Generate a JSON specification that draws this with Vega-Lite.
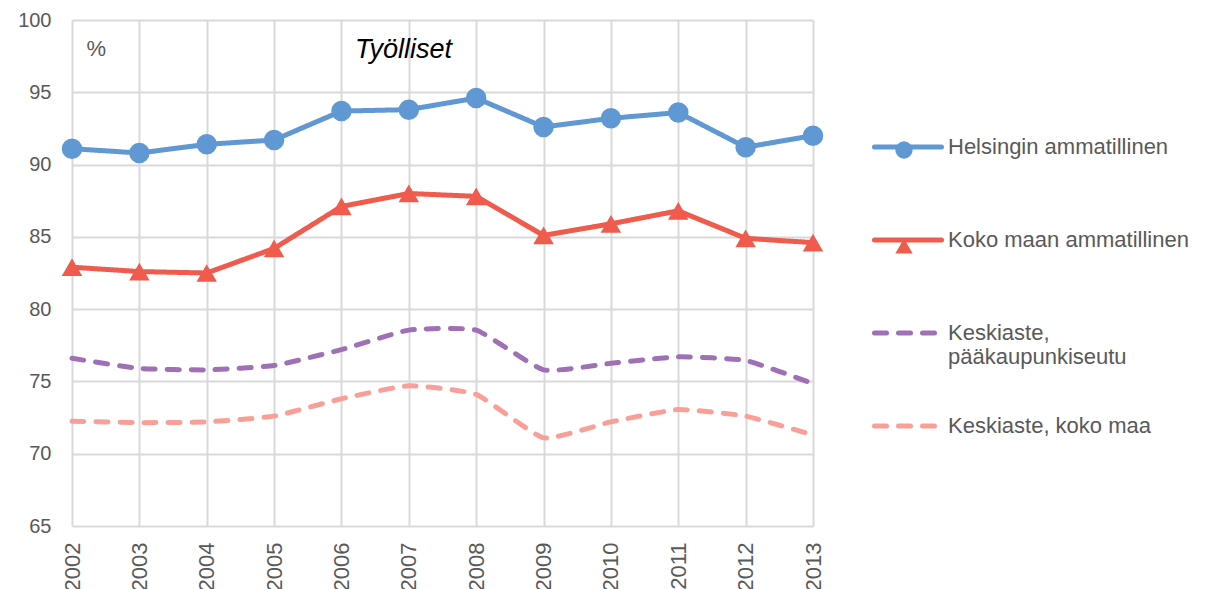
{
  "$schema": "https://vega.github.io/schema/vega-lite/v6.json",
  "width": 741,
  "height": 506,
  "autosize": {"type": "none"},
  "padding": {"left": 72, "top": 20, "right": 402, "bottom": 63},
  "background": "white",
  "config": {
    "view": {"stroke": null},
    "font": "Liberation Sans",
    "axis": {
      "grid": true, "gridColor": "#D9D9D9", "gridWidth": 2,
      "domain": false, "ticks": false,
      "labelFont": "Liberation Sans", "labelFontSize": 20, "labelColor": "#595959",
      "title": null
    }
  },
  "datasets": {
    "d": [
      {"year": 2002, "series": "Helsingin ammatillinen", "value": 91.1},
      {"year": 2003, "series": "Helsingin ammatillinen", "value": 90.8},
      {"year": 2004, "series": "Helsingin ammatillinen", "value": 91.4},
      {"year": 2005, "series": "Helsingin ammatillinen", "value": 91.7},
      {"year": 2006, "series": "Helsingin ammatillinen", "value": 93.7},
      {"year": 2007, "series": "Helsingin ammatillinen", "value": 93.8},
      {"year": 2008, "series": "Helsingin ammatillinen", "value": 94.6},
      {"year": 2009, "series": "Helsingin ammatillinen", "value": 92.6},
      {"year": 2010, "series": "Helsingin ammatillinen", "value": 93.2},
      {"year": 2011, "series": "Helsingin ammatillinen", "value": 93.6},
      {"year": 2012, "series": "Helsingin ammatillinen", "value": 91.2},
      {"year": 2013, "series": "Helsingin ammatillinen", "value": 92.0},
      {"year": 2002, "series": "Koko maan ammatillinen", "value": 82.9},
      {"year": 2003, "series": "Koko maan ammatillinen", "value": 82.6},
      {"year": 2004, "series": "Koko maan ammatillinen", "value": 82.5},
      {"year": 2005, "series": "Koko maan ammatillinen", "value": 84.2},
      {"year": 2006, "series": "Koko maan ammatillinen", "value": 87.1},
      {"year": 2007, "series": "Koko maan ammatillinen", "value": 88.0},
      {"year": 2008, "series": "Koko maan ammatillinen", "value": 87.8},
      {"year": 2009, "series": "Koko maan ammatillinen", "value": 85.1},
      {"year": 2010, "series": "Koko maan ammatillinen", "value": 85.9},
      {"year": 2011, "series": "Koko maan ammatillinen", "value": 86.8},
      {"year": 2012, "series": "Koko maan ammatillinen", "value": 84.9},
      {"year": 2013, "series": "Koko maan ammatillinen", "value": 84.6},
      {"year": 2002, "series": "Keskiaste, pääkaupunkiseutu", "value": 76.6},
      {"year": 2003, "series": "Keskiaste, pääkaupunkiseutu", "value": 75.9},
      {"year": 2004, "series": "Keskiaste, pääkaupunkiseutu", "value": 75.8},
      {"year": 2005, "series": "Keskiaste, pääkaupunkiseutu", "value": 76.1},
      {"year": 2006, "series": "Keskiaste, pääkaupunkiseutu", "value": 77.2},
      {"year": 2007, "series": "Keskiaste, pääkaupunkiseutu", "value": 78.55},
      {"year": 2008, "series": "Keskiaste, pääkaupunkiseutu", "value": 78.55},
      {"year": 2009, "series": "Keskiaste, pääkaupunkiseutu", "value": 75.8},
      {"year": 2010, "series": "Keskiaste, pääkaupunkiseutu", "value": 76.25},
      {"year": 2011, "series": "Keskiaste, pääkaupunkiseutu", "value": 76.7},
      {"year": 2012, "series": "Keskiaste, pääkaupunkiseutu", "value": 76.45},
      {"year": 2013, "series": "Keskiaste, pääkaupunkiseutu", "value": 74.85},
      {"year": 2002, "series": "Keskiaste, koko maa", "value": 72.25},
      {"year": 2003, "series": "Keskiaste, koko maa", "value": 72.15},
      {"year": 2004, "series": "Keskiaste, koko maa", "value": 72.2},
      {"year": 2005, "series": "Keskiaste, koko maa", "value": 72.6},
      {"year": 2006, "series": "Keskiaste, koko maa", "value": 73.8},
      {"year": 2007, "series": "Keskiaste, koko maa", "value": 74.7},
      {"year": 2008, "series": "Keskiaste, koko maa", "value": 74.1},
      {"year": 2009, "series": "Keskiaste, koko maa", "value": 71.1},
      {"year": 2010, "series": "Keskiaste, koko maa", "value": 72.2},
      {"year": 2011, "series": "Keskiaste, koko maa", "value": 73.05},
      {"year": 2012, "series": "Keskiaste, koko maa", "value": 72.6},
      {"year": 2013, "series": "Keskiaste, koko maa", "value": 71.3}
    ]
  },
  "data": {"name": "d"},
  "encoding": {
    "x": {
      "field": "year", "type": "quantitative",
      "scale": {"domain": [2002, 2013], "nice": false, "zero": false},
      "axis": {"values": [2002,2003,2004,2005,2006,2007,2008,2009,2010,2011,2012,2013], "format": "d", "labelAngle": -90, "labelPadding": 16, "labelFontSize": 22}
    },
    "y": {
      "field": "value", "type": "quantitative",
      "scale": {"domain": [65, 100], "nice": false, "zero": false},
      "axis": {"values": [65,70,75,80,85,90,95,100], "labelPadding": 21}
    }
  },
  "layer": [
    {
      "transform": [{"filter": "datum.series == 'Helsingin ammatillinen' || datum.series == 'Koko maan ammatillinen'"}],
      "mark": {"type": "line", "strokeWidth": 5, "strokeJoin": "round", "strokeCap": "round"},
      "encoding": {
        "color": {
          "field": "series", "type": "nominal",
          "scale": {
            "domain": ["Helsingin ammatillinen", "Koko maan ammatillinen", "Keskiaste, pääkaupunkiseutu", "Keskiaste, koko maa"],
            "range": ["#5F98D3", "#EF5B4D", "#A070B5", "#F8A098"]
          },
          "legend": {
            "orient": "none", "legendX": 800, "legendY": 91,
            "title": null, "padding": 0,
            "symbolType": "stroke", "symbolSize": 4489, "symbolStrokeWidth": 5,
            "labelFont": "Liberation Sans", "labelFontSize": 22, "labelColor": "#595959",
            "labelOffset": 4, "labelLimit": 300, "labelLineHeight": 29,
            "labelExpr": "datum.label == 'Keskiaste, pääkaupunkiseutu' ? ['Keskiaste,', 'pääkaupunkiseutu'] : datum.label",
            "gridAlign": "all", "rowPadding": 22,
            "encode": {"symbols": {"update": {"strokeCap": {"value": "round"}}}}
          }
        },
        "strokeDash": {
          "field": "series", "type": "nominal",
          "scale": {
            "domain": ["Helsingin ammatillinen", "Koko maan ammatillinen", "Keskiaste, pääkaupunkiseutu", "Keskiaste, koko maa"],
            "range": [[1, 0], [1, 0], [12, 12], [12, 12]]
          }
        }
      }
    },
    {
      "transform": [{"filter": "datum.series == 'Keskiaste, pääkaupunkiseutu' || datum.series == 'Keskiaste, koko maa'"}],
      "mark": {"type": "line", "strokeWidth": 5, "strokeCap": "round", "interpolate": "cardinal", "tension": 0.55},
      "encoding": {
        "color": {"field": "series", "type": "nominal"},
        "strokeDash": {"field": "series", "type": "nominal"}
      }
    },
    {
      "transform": [{"filter": "datum.series == 'Helsingin ammatillinen' || datum.series == 'Koko maan ammatillinen'"}],
      "mark": {"type": "point", "filled": true, "opacity": 1, "size": 420, "strokeWidth": 0},
      "encoding": {
        "fill": {
          "field": "series", "type": "nominal",
          "scale": {"domain": ["Helsingin ammatillinen", "Koko maan ammatillinen"], "range": ["#5F98D3", "#EF5B4D"]},
          "legend": {
            "orient": "none", "legendX": 822, "legendY": 120,
            "title": null, "padding": 0,
            "symbolSize": 300, "symbolStrokeWidth": 0, "symbolOpacity": 1,
            "labelFontSize": 20, "labelExpr": "''",
            "gridAlign": "all", "rowPadding": 76
          }
        },
        "shape": {
          "field": "series", "type": "nominal",
          "scale": {"domain": ["Helsingin ammatillinen", "Koko maan ammatillinen"], "range": ["circle", "triangle-up"]}
        }
      }
    },
    {
      "transform": [{"filter": "datum.year == 2002 && datum.series == 'Helsingin ammatillinen'"}],
      "mark": {"type": "text", "fontSize": 27, "fontStyle": "italic", "fill": "#000000", "font": "Liberation Sans"},
      "encoding": {
        "x": {"datum": 2006.92},
        "y": {"datum": 97.9},
        "text": {"value": "Työlliset"}
      }
    },
    {
      "transform": [{"filter": "datum.year == 2002 && datum.series == 'Helsingin ammatillinen'"}],
      "mark": {"type": "text", "fontSize": 22, "fill": "#595959", "font": "Liberation Sans"},
      "encoding": {
        "x": {"datum": 2002.36},
        "y": {"datum": 98.0},
        "text": {"value": "%"}
      }
    }
  ]
}
